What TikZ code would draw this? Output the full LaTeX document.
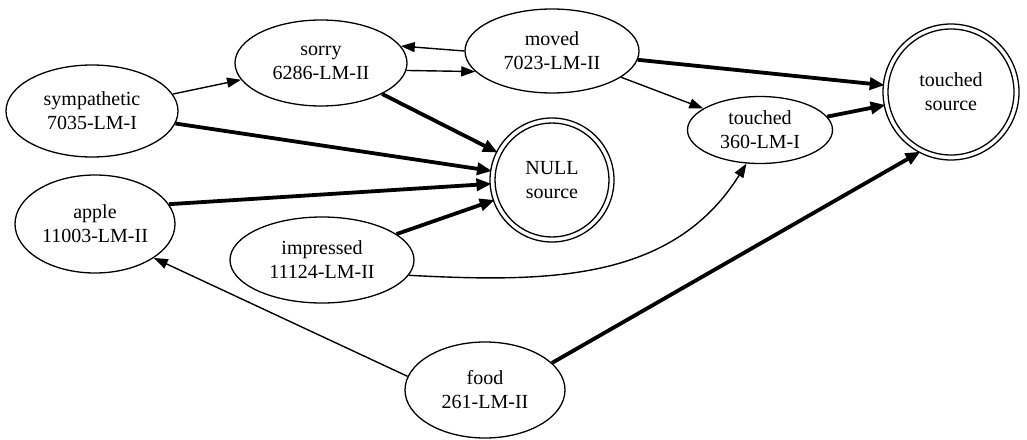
\documentclass[tikz,border=0pt]{standalone}
\usepackage{fontspec}
\setmainfont{Liberation Serif}
\usetikzlibrary{shapes.geometric,arrows.meta}
\begin{document}
\begin{tikzpicture}[x=1pt,y=-1pt,
  every node/.style={font=\fontsize{20}{24}\selectfont, align=center, inner sep=0pt},
  st/.style={ellipse, draw, line width=1.3pt},
  dbl/.style={circle, draw, line width=1.3pt},
  thin/.style={line width=1.4pt, -{Triangle[length=14pt,width=10pt]}},
  thick/.style={line width=3.8pt, -{Triangle[length=15pt,width=12pt]}, shorten >=-2pt}
]
\useasboundingbox (0,0) rectangle (1027,439);
\node[st, minimum width=172pt, minimum height=92pt] (sym) at (92,111) {sympathetic\\7035-LM-I};
\node[st, minimum width=172pt, minimum height=86pt] (sorry) at (321,63) {sorry\\6286-LM-II};
\node[st, minimum width=174pt, minimum height=84pt] (moved) at (552,51) {moved\\7023-LM-II};
\node[st, minimum width=145pt, minimum height=67pt] (touched) at (760,130) {touched\\360-LM-I};
\node[st, minimum width=160pt, minimum height=98pt] (apple) at (95,224) {apple\\11003-LM-II};
\node[st, minimum width=184pt, minimum height=86pt] (imp) at (322,260) {impressed\\11124-LM-II};
\node[st, minimum width=160pt, minimum height=96pt] (food) at (485,390) {food\\261-LM-II};
\node[dbl, minimum size=124pt] (null) at (552,180) {};
\node[dbl, minimum size=114pt] (nulli) at (552,180) {NULL\\source};
\node[dbl, minimum size=136pt] (tsrc) at (951,92) {};
\node[dbl, minimum size=126pt] (tsrci) at (951,92) {touched\\source};

\draw[thin] (sym) -- (sorry);
\draw[thick] (sym) -- (null);
\draw[thick] (sorry) -- (null);
\draw[thin] (sorry.-5) -- (moved.-165);
\draw[thin] (moved.180) -- (sorry.12);
\draw[thick] (moved) -- (tsrc);
\draw[thin] (moved) -- (touched);
\draw[thick] (touched) -- (tsrc);
\draw[thick] (apple.15) -- (null);
\draw[thick] (imp) -- (null);
\draw[thin] (imp.-10) to[out=-3,in=-122] (touched.-112);
\draw[thin] (food.170) -- (apple.-30);
\draw[thick] (food.22) -- (tsrc.-118);
\end{tikzpicture}
\end{document}
